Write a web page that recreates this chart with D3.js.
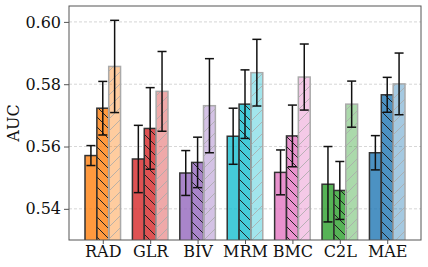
<!DOCTYPE html>
<html>
<head>
<meta charset="utf-8">
<script src="https://cdn.jsdelivr.net/npm/d3@7"></script>
<style>
  body { margin: 0; background: #fff; }
  svg { display: block; }
  text { font-family: "DejaVu Serif", serif; }
</style>
</head>
<body>
<svg id="chart" width="428" height="267"></svg>
<script>
// values
let categories = ['RAD', 'GLR', 'BIV', 'MRM', 'BMC', 'C2L', 'MAE']
let colors = ['#ff7f0e', '#d62728', '#9467bd', '#17becf', '#e377c2', '#2ca02c', '#1f77b4']
let means1 = [0.5571, 0.5560, 0.5515, 0.5633, 0.5517, 0.5479, 0.5580]
let err1 = [0.0032, 0.0108, 0.0072, 0.0090, 0.0072, 0.0121, 0.0055]
let means2 = [0.5723, 0.5658, 0.5549, 0.5736, 0.5634, 0.5459, 0.5766]
let err2 = [0.0086, 0.0131, 0.0081, 0.0110, 0.0099, 0.0093, 0.0056]
let means3 = [0.5857, 0.5777, 0.5731, 0.5837, 0.5823, 0.5736, 0.5801]
let err3 = [0.0148, 0.0128, 0.0151, 0.0107, 0.0106, 0.0074, 0.0099]
let yTicks = [0.54, 0.56, 0.58, 0.60]

let svg = d3.select('#chart'),
    mLeft = 69, mRight = 421, mTop = 6, mBottom = 240,
    barW = 0.25

let x = d3.scaleLinear().domain([-0.7125, 6.7125]).range([mLeft, mRight])
let y = d3.scaleLinear().domain([0.53, 0.6051]).range([mBottom, mTop])

let defs = svg.append('defs')
defs.append('clipPath').attr('id', 'clip')
    .append('rect').attr('x', mLeft).attr('y', mTop)
    .attr('width', mRight - mLeft).attr('height', mBottom - mTop)

// hatch patterns
let p1 = defs.append('pattern').attr('id', 'hatchBack')
    .attr('patternUnits', 'userSpaceOnUse').attr('width', 10).attr('height', 10)
p1.append('path').attr('d', 'M-2,-2 L12,12 M-2,8 L2,12 M8,-2 L12,2')
    .attr('stroke', '#222').attr('stroke-width', 1)
let p2 = defs.append('pattern').attr('id', 'hatchFwd')
    .attr('patternUnits', 'userSpaceOnUse').attr('width', 12).attr('height', 12)
p2.append('path').attr('d', 'M-3,15 L15,-3 M-3,3 L3,-3 M9,15 L15,9')
    .attr('stroke', '#aaa').attr('stroke-width', 0.8)

// grid
svg.append('g').selectAll('line').data(yTicks).join('line')
    .attr('x1', mLeft).attr('x2', mRight)
    .attr('y1', d => y(d)).attr('y2', d => y(d))
    .attr('stroke', '#ccc').attr('stroke-width', 0.8)
    .attr('stroke-dasharray', '3,2')

let series = [
    { means: means1, errs: err1, off: -barW, op: 0.8, edge: '#333', hatch: null },
    { means: means2, errs: err2, off: 0, op: 0.8, edge: '#333', hatch: 'url(#hatchBack)' },
    { means: means3, errs: err3, off: barW, op: 0.4, edge: '#aaa', hatch: 'url(#hatchFwd)' }
]

let plot = svg.append('g').attr('clip-path', 'url(#clip)')

series.forEach(s => {
    let g = plot.append('g')
    let rows = categories.map((c, i) => ({ i: i, v: s.means[i], e: s.errs[i] }))
    g.selectAll('rect.fill').data(rows).join('rect')
        .attr('x', d => x(d.i + s.off - barW / 2))
        .attr('width', x(barW) - x(0))
        .attr('y', d => y(d.v))
        .attr('height', d => mBottom + 5 - y(d.v))
        .attr('fill', d => colors[d.i]).attr('fill-opacity', s.op)
    if (s.hatch) {
        g.selectAll('rect.hatch').data(rows).join('rect')
            .attr('x', d => x(d.i + s.off - barW / 2))
            .attr('width', x(barW) - x(0))
            .attr('y', d => y(d.v))
            .attr('height', d => mBottom + 5 - y(d.v))
            .attr('fill', s.hatch)
    }
    g.selectAll('rect.edge').data(rows).join('rect')
        .attr('x', d => x(d.i + s.off - barW / 2))
        .attr('width', x(barW) - x(0))
        .attr('y', d => y(d.v))
        .attr('height', d => mBottom + 5 - y(d.v))
        .attr('fill', 'none').attr('stroke', s.edge).attr('stroke-width', 1.5)
})

// error bars on top
series.forEach(s => {
    categories.forEach((c, i) => {
        let cx = x(i + s.off),
            lo = y(s.means[i] - s.errs[i]),
            hi = y(s.means[i] + s.errs[i])
        let g = svg.append('g').attr('stroke', '#111').attr('stroke-width', 1.5)
        g.append('line').attr('x1', cx).attr('x2', cx).attr('y1', lo).attr('y2', hi)
        g.append('line').attr('x1', cx - 4.5).attr('x2', cx + 4.5).attr('y1', lo).attr('y2', lo)
        g.append('line').attr('x1', cx - 4.5).attr('x2', cx + 4.5).attr('y1', hi).attr('y2', hi)
    })
})

// frame
svg.append('rect').attr('x', mLeft).attr('y', mTop)
    .attr('width', mRight - mLeft).attr('height', mBottom - mTop)
    .attr('fill', 'none').attr('stroke', '#555').attr('stroke-width', 1)

// axes
let yAxis = d3.axisLeft(y).tickValues(yTicks).tickFormat(d3.format('.2f'))
    .tickSize(5).tickPadding(3)
let ya = svg.append('g').attr('transform', `translate(${mLeft},0)`).call(yAxis)
ya.select('.domain').remove()
ya.selectAll('.tick line').attr('stroke', '#555')
ya.selectAll('text').attr('font-size', 16).attr('fill', '#111')
    .style('font-family', '"DejaVu Serif", serif')

let xAxis = d3.axisBottom(x).tickValues(d3.range(categories.length))
    .tickFormat(i => categories[i]).tickSize(4).tickPadding(2)
let xa = svg.append('g').attr('transform', `translate(0,${mBottom})`).call(xAxis)
xa.select('.domain').remove()
xa.selectAll('.tick line').attr('stroke', '#555')
xa.selectAll('text').attr('font-size', 16).attr('fill', '#111')
    .style('font-family', '"DejaVu Serif", serif')

svg.append('text')
    .attr('transform', `translate(19,${(mTop + mBottom) / 2}) rotate(-90)`)
    .attr('text-anchor', 'middle')
    .attr('font-size', 16).attr('fill', '#111')
    .text('AUC')
</script>
</body>
</html>
